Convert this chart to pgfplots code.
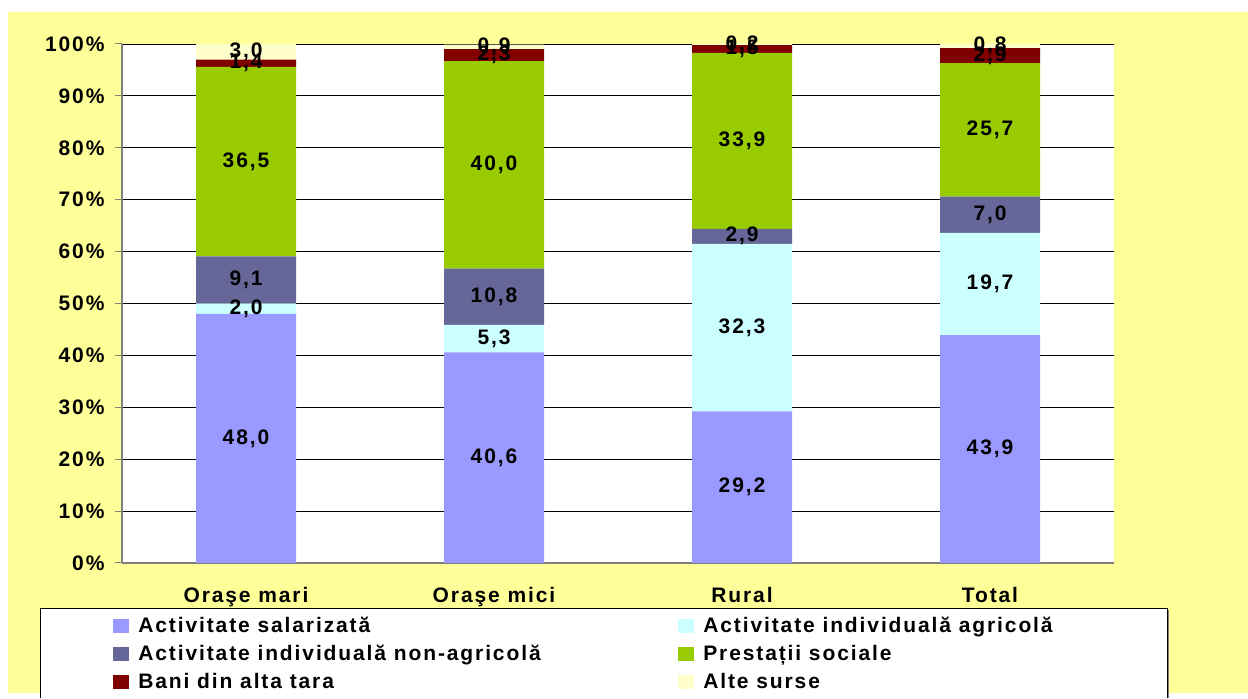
\documentclass[border=0pt]{standalone}
\usepackage{fontspec}
\setmainfont{Liberation Sans}[LetterSpace=9]
\usepackage{pgfplots}
\usepackage{pgfplotstable}
\pgfplotsset{compat=1.18}
\definecolor{bgyellow}{HTML}{FFFF99}
\definecolor{csal}{HTML}{9999FF}
\definecolor{cagr}{HTML}{CCFFFF}
\definecolor{cnon}{HTML}{666699}
\definecolor{cpre}{HTML}{99CC00}
\definecolor{cban}{HTML}{800000}
\definecolor{calt}{HTML}{FFFFCC}
\pgfplotstableread{
x a b c d e f
0 48.0 2.0 9.1 36.5 1.4 3.0
1 40.6 5.3 10.8 40.0 2.3 0.9
2 29.2 32.3 2.9 33.9 1.5 0.2
3 43.9 19.7 7.0 25.7 2.9 0.8
}\data
\newcommand{\lab}{\fontsize{21}{25}\selectfont\bfseries}
\begin{document}
\begin{tikzpicture}
\fill[white] (0pt,0pt) rectangle (1248pt,693pt);
\fill[bgyellow] (8pt,0pt) rectangle (1248pt,681pt);
\fill[white] (40pt,-5pt) rectangle (1167pt,84pt);
\draw[black, line width=1pt] (40pt,-5pt) -- (40pt,84pt) -- (1167pt,84pt) -- (1167pt,-5pt);
\draw[gray, line width=1pt] (1168.5pt,-5pt) -- (1168.5pt,83pt);
\begin{axis}[
  at={(122pt,130pt)}, anchor=south west,
  scale only axis, width=992pt, height=519pt,
  ybar stacked, bar width=100pt,
  xmin=-0.5, xmax=3.5, ymin=0, ymax=100,
  axis background/.style={fill=white},
  axis x line*=bottom, axis y line*=left,
  axis line style={draw=gray, line width=1.2pt},
  ytick={0,10,...,100},
  ymajorgrids, grid style={black, line width=0.9pt},
  yticklabel={\pgfmathprintnumber{\tick}\%},
  /pgf/number format/assume math mode=true,
  yticklabel style={font=\lab, anchor=east, xshift=-7pt},
  ytick style={draw=gray, line width=1pt},
  tick align=outside, major tick length=7pt,
  xtick={0,1,2,3},
  xticklabels={Oraşe mari, Oraşe mici, Rural, Total},
  xticklabel style={font=\lab, anchor=base, yshift=-33pt},
  xtick style={draw=none},
  extra x ticks={-0.5,0.5,1.5,2.5,3.5},
  extra x tick labels={},
  extra x tick style={tick style={draw=gray, line width=1pt}, grid=none},
  point meta=explicit,
  nodes near coords={\pgfmathprintnumber[fixed,fixed zerofill,precision=1,use comma]{\pgfplotspointmeta}},
  every node near coord/.append style={font=\lab, anchor=center, text=black},
  legend columns=2,
  legend style={draw=none, fill=none, at={(axis description cs:-0.012,-0.097)}, anchor=north west,
    cells={anchor=west}, nodes={inner sep=2pt}, font=\lab, row sep=7pt},
  legend image code/.code={\fill[#1] (0pt,-7pt) rectangle (16pt,7pt); \path (23pt,0pt);},
]
\addplot[fill=csal, draw=none] table[x=x,y=a,meta=a]{\data};
\addlegendentry{\makebox[538pt][l]{Activitate salarizată}}
\addplot[fill=cagr, draw=none] table[x=x,y=b,meta=b]{\data};
\addlegendentry{Activitate individuală agricolă}
\addplot[fill=cnon, draw=none] table[x=x,y=c,meta=c]{\data};
\addlegendentry{\makebox[538pt][l]{Activitate individuală non-agricolă}}
\addplot[fill=cpre, draw=none] table[x=x,y=d,meta=d]{\data};
\addlegendentry{Prestații sociale}
\addplot[fill=cban, draw=none] table[x=x,y=e,meta=e]{\data};
\addlegendentry{\makebox[538pt][l]{Bani din alta tara}}
\addplot[fill=calt, draw=none] table[x=x,y=f,meta=f]{\data};
\addlegendentry{Alte surse}
\end{axis}
\useasboundingbox (0pt,0pt) rectangle (1248pt,693pt);
\end{tikzpicture}
\end{document}
